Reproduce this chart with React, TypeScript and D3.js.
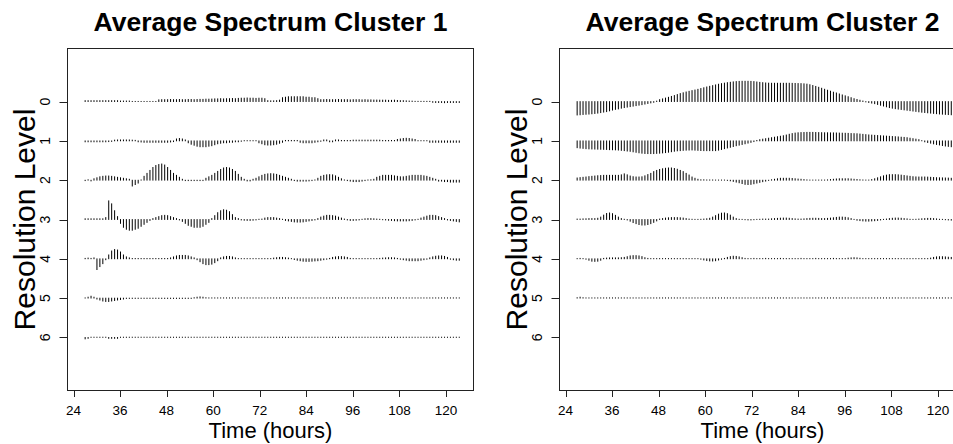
import React from "react";
import * as d3 from "d3";

const WIDTH = 953;
const HEIGHT = 444;

// Sampling of the averaged spectra: 128 points, one every ~45.5 minutes
const TIME_START = 27.0;
const TIME_STEP = 0.7593;
const N_POINTS = 128;

const LEVELS = [0, 1, 2, 3, 4, 5, 6];
const X_TICKS = [24, 36, 48, 60, 72, 84, 96, 108, 120];
const TITLES = ["Average Spectrum Cluster 1", "Average Spectrum Cluster 2"];

// Cluster 1 spectrum, one array per resolution level (positive = upward bar)
const C1_L0 = [
  1, 1, 1, 1, 1, 1, 1, 1, 1, 1, 1, 1,
  0.6, 0.6, 0.6, 0.6,
  0.2, 0.2, 0.2, 0.2, 0.2, 0.2, 0.2, 0.2, 0.2,
  1.8, 2, 2, 2, 2.2, 2, 2, 2.2, 2, 2, 2.2, 2.2, 2, 2.2, 2.3, 2.3,
  2.5, 2.5, 2.6, 2.8, 2.8, 3, 2.8, 3, 3, 3.2, 3, 3.3,
  3.5, 3.5, 3.7, 3.5, 3.5, 3.3, 3.5, 3.5, 3,
  1, 0.8, 0.8, 1, 1.5,
  4, 4.5, 5, 5, 5, 5, 5, 5, 4.5, 4.5, 4, 4, 3,
  2, 2, 2.2, 2, 2, 2, 2.2, 2, 2, 2, 1.8, 2, 2, 2, 1.8, 2, 1.8, 1.8, 1.6, 1.6, 1.5,
  1.5, 1.5, 1.3, 1.3, 1.5, 1.2, 1, 1, 0.8, 0.6, 0.5,
  0.3, 0.3, 0.3, 0.3, 0.3, 0.3,
  -0.8, -1, -1, -1, -1.2, -1, -1, -1, -1, -1,
];
const C1_L1 = [
  -1, -1, -1, -1, -1, -1, -1, -1, -0.8, -0.6,
  0.8, 1, 1, 1, 1, 1, 0.8, 0.6,
  -1, -1.2, -1.5, -1.5, -1.5, -1.5, -1.5, -1.5, -1.5, -1.5, -1.5, -1.2, -0.8,
  2, 2.5, 2, 1,
  -2, -3.5, -4.5, -5.5, -6, -6, -6, -5.5, -5, -4, -3,
  -2.5, -2, -2, -1.5, -1.5, -1, -1, -0.5, 0.3, 0.3,
  0.3, 0.3, 0.3,
  -2, -3, -4, -4.3, -4.3, -4, -3.5, -2.5, -1.5,
  0.5, 0.5, 0.5, 0.5, 0.5,
  -1.5, -2, -2, -2, -2, -1.5, -1, -0.5,
  1, 1, -1, -1, 1, 1, 0.5, 0.5, 0.5, 0.5,
  0.8, 0.8, 0.8, 0.8, 0.8, 0.8, 0.8, 0.8, 0.8, 0.8,
  0.5, 0.5, 0.5, 0.5, 0.5,
  1.5, 2, 2.5, 2.7, 2.5, 2, 1.5,
  0.3, 0.3, 0.3, 0.3,
  -1.5, -1.5, -1.5, -1.5, -1.5, -1.5, -1.5, -1.5, -1.5, -1.5, -1.5,
];
const C1_L2 = [
  -0.5, 0.5, -0.8,
  1.5,
  2.5, 3.5, 4, 4.3, 4.3,
  4, 3.5, 3, 2.5, 2, 1.5, 1,
  -6, -4.5, -3,
  0.3,
  4, 7, 10, 13, 15, 16, 16.5, 15.5, 13, 10, 7, 5, 3, 1,
  -0.5, -0.5, -0.5, -0.5, -0.5, -0.5, -0.5,
  2, 3.5, 5, 7, 9, 11, 12.5, 13, 12.5, 11, 9, 6, 3, 1,
  -0.8, -0.8,
  1, 2, 3.5, 5, 6, 6.5, 6.7, 6.5, 6, 5, 4, 3, 2, 1,
  -0.5, -1, -1, -1, -1, -0.8, -0.5, 0.3,
  2, 4, 5, 5.5, 5.7, 5.5, 4.5, 3, 1.5,
  0.3, -0.5, -1, -1.5, -1.5, -1.5, -1, -0.5, 0.3, 0.5,
  1, 3, 4, 5, 5, 5, 5, 4.5, 4, 3.5, 3.5, 4, 4.5, 5, 5, 5, 5, 4.5, 4, 3, 2, 1,
  -1, -1, -1.5, -1.5, -2, -2, -2, -2,
];
const C1_L3 = [
  0.8, 0.8, 0.8, 0.8, 0.8, 0.8, 0.8,
  2,
  19, 16, 9, 3,
  -4, -8, -10, -11, -11, -10, -9, -7, -5, -3,
  -1,
  1, 2, 3, 4, 4.3, 4, 3, 2, 1,
  -0.5,
  -2, -4, -6, -7, -8, -8, -8, -7, -5, -3,
  1, 4, 7, 9, 10, 9.5, 8, 5, 2, 1,
  -0.5, -0.8, -1, -1, -0.8, -0.5, 0.3, 0.5,
  1.5, 2, 2, 2, 1.5, 1, 0.3,
  -1, -1.5, -2, -2.5, -2.7, -2.7, -2.5, -2, -1.5, -1, -0.5,
  1, 2.5, 3.5, 4.3, 4.3, 4, 3.5, 2.5, 1.5, 0.5,
  -0.5, -1, -1, -0.8, -0.5, 0.3, 0.8, 1, 1, 0.8, 0.5, 0.3, -0.3, -0.5, -0.8,
  -1, -1.3, -1.5, -1.5, -1.5, -1.5, -1.3, -1, -0.5, 0.3,
  1.5, 2.5, 3.5, 4.3, 4.3, 4, 3, 2, 1,
  -0.5, -1, -1.5, -2, -2.5,
];
const C1_L4 = [
  0.5, 0.8, 0.5, 1,
  -11, -8, -5, -1,
  4, 8, 9.5, 9, 7, 4, 2, 1,
  0.4, 0.4, 0.4, 0.4, 0.4, 0.4, 0.4, 0.4, 0.4, 0.4, 0.4, 0.4, 0.4,
  1, 2, 3, 3.5, 3.5, 3.5, 3, 2, 1,
  -1, -3, -5, -6, -6, -5.5, -4, -2,
  1, 2, 2.5, 2.5, 2, 1,
  0.3, 0.3, 0.3, 0.3, 0.3, 0.3, 0.3, 0.3, 0.3, 0.3, 0.3, 0.3,
  0.8, 1.2, 1.5, 1.5, 1.2, 0.8, 0.3,
  -0.8, -1.5, -2, -2.5, -2.7, -2.7, -2.5, -2.2, -2, -1.5, -1, -0.5,
  0.5, 1.5, 2, 2.3, 2.3, 2, 1.5, 0.5,
  0.3, 0.3, 0.3, 0.3, 0.3, 0.3, 0.3, 0.3, 0.3,
  0.5, 0.8, 1, 1.2, 1.2, 1, 0.5,
  -0.5, -1, -1.5, -2, -2, -2, -2, -1.5, -1, -0.5,
  1, 2, 2.7, 3, 3, 2.5, 1.5,
  -0.5, -1, -1.5, -1.5,
];
const C1_L5 = [
  0.3, 1, 2, 1,
  -1, -2, -3, -3.5, -3.5, -3, -2.5, -2, -1.5, -1,
  -0.4, -0.4, -0.4, -0.4, -0.4, -0.4, -0.4, -0.4, -0.4, -0.4, -0.4, -0.4,
  -0.4, -0.4, -0.4, -0.4, -0.4, -0.4, -0.4, -0.4, -0.4, -0.4, -0.4,
  0.5, 1, 1.3, 1, 0.5,
  0.3, 0.3, 0.3, 0.3, 0.3, 0.3, 0.3, 0.3, 0.3, 0.3, 0.3, 0.3, 0.3, 0.3, 0.3, 0.3,
  0.3, 0.3, 0.3, 0.3, 0.3, 0.3, 0.3, 0.3, 0.3, 0.3, 0.3, 0.3, 0.3, 0.3, 0.3, 0.3,
  0.3, 0.3, 0.3, 0.3, 0.3, 0.3, 0.3, 0.3, 0.3, 0.3, 0.3, 0.3, 0.3, 0.3, 0.3, 0.3,
  0.3, 0.3, 0.3, 0.3, 0.3, 0.3, 0.3, 0.3, 0.3, 0.3, 0.3, 0.3, 0.3, 0.3, 0.3, 0.3,
  0.3, 0.3, 0.3, 0.3, 0.3, 0.3, 0.3, 0.3, 0.3, 0.3, 0.3, 0.3, 0.3, 0.3, 0.3, 0.3,
  0.3, 0.3, 0.3, 0.3, 0.3, 0.3,
];
const C1_L6 = [
  -1.5, -1,
  0.3, 0.3, 0.3, 0.3, 0.3, 0.3,
  -1, -1, -1, -1,
  0.3, 0.3, 0.3, 0.3, 0.3, 0.3, 0.3, 0.3, 0.3, 0.3, 0.3, 0.3, 0.3, 0.3, 0.3, 0.3,
  0.3, 0.3, 0.3, 0.3, 0.3, 0.3, 0.3, 0.3, 0.3, 0.3, 0.3, 0.3, 0.3, 0.3, 0.3, 0.3,
  0.3, 0.3, 0.3, 0.3, 0.3, 0.3, 0.3, 0.3, 0.3, 0.3, 0.3, 0.3, 0.3, 0.3, 0.3, 0.3,
  0.3, 0.3, 0.3, 0.3, 0.3, 0.3, 0.3, 0.3, 0.3, 0.3, 0.3, 0.3, 0.3, 0.3, 0.3, 0.3,
  0.3, 0.3, 0.3, 0.3, 0.3, 0.3, 0.3, 0.3, 0.3, 0.3, 0.3, 0.3, 0.3, 0.3, 0.3, 0.3,
  0.3, 0.3, 0.3, 0.3, 0.3, 0.3, 0.3, 0.3, 0.3, 0.3, 0.3, 0.3, 0.3, 0.3, 0.3, 0.3,
  0.3, 0.3, 0.3, 0.3, 0.3, 0.3, 0.3, 0.3, 0.3, 0.3, 0.3, 0.3, 0.3, 0.3, 0.3, 0.3,
  0.3, 0.3, 0.3, 0.3,
];

// Cluster 2 spectrum
const C2_L0 = [
  -13.7, -13.5, -13.2, -13, -12.8, -12.5, -12.2, -11.8, -11.3, -10.8,
  -10.3, -9.5, -8.7, -8, -7.5, -6.8, -6.2, -5.7, -5.2, -4.7,
  -4.2, -3.7, -3.2, -2.6, -2, -1.4, -0.8, 0.5, 2, 2.8,
  3.6, 4.4, 5.3, 6.2, 7.2, 8.2, 9, 9.8, 10.5, 11.2,
  11.8, 12.5, 13.3, 14.1, 14.9, 15.6, 16.3, 17, 17.7, 18.3,
  18.8, 19.3, 19.7, 20.1, 20.4, 20.6, 20.7, 20.7, 20.7, 20.6,
  20.4, 20, 19.6, 19.3, 19, 18.8, 18.7, 18.7, 18.7, 18.7,
  18.7, 18.7, 18.7, 18.6, 18.5, 18.4, 18.3, 18.1, 17.8, 17.2,
  16.4, 15.5, 14.6, 13.6, 12.6, 11.6, 10.6, 9.6, 8.8, 7.8,
  6.8, 5.9, 5, 4, 3, 2.2, 1.4, 0.6, -0.4, -1,
  -1.6, -2.2, -3, -3.8, -4.6, -5.4, -6.2, -6.8, -7.3, -7.7,
  -8.1, -8.5, -8.9, -9.3, -9.7, -10.1, -10.5, -10.9, -11.2, -11.5,
  -11.8, -12.1, -12.4, -12.7, -12.9, -13.1, -13.3, -13.5,
];
const C2_L1 = [
  -7, -7.4, -7.7, -8, -8.2, -8.3, -8.4, -8.5, -8.6, -8.7,
  -8.8, -9, -9.1, -9.2, -9.4, -9.7, -10, -10.4, -10.7, -11.2,
  -11.7, -12.2, -12.6, -12.9, -13, -13, -13, -12.8, -12.6, -12.3,
  -12, -11.6, -11.1, -10.6, -10.2, -10, -9.7, -9.5, -9.4, -9.3,
  -9.5, -9.7, -9.9, -10, -10, -10, -10, -10, -9.5, -8.8,
  -8, -7.3, -6.6, -5.8, -5, -4.4, -3.7, -3, -2.3, -1.6,
  -0.8, 0.5, 1.3, 1.8, 2.3, 2.8, 3.3, 3.8, 4.3, 4.8,
  5.3, 6, 6.8, 7.5, 8, 8.3, 8.5, 8.6, 8.7, 8.7,
  8.7, 8.6, 8.5, 8.4, 8.3, 8.3, 8.2, 8.2, 8.1, 8,
  7.9, 7.8, 7.7, 7.5, 7.4, 7.3, 7, 6.7, 6.4, 6.1,
  5.9, 5.7, 5.5, 5.3, 5.1, 4.9, 4.7, 4.5, 4.3, 4.1,
  3.8, 3.6, 3.3, 2.8, 2.3, 1.8, 1.3, 0.3, -1, -1.7,
  -2.4, -3.1, -3.7, -4.2, -4.8, -5.3, -5.7, -6,
];
const C2_L2 = [
  2.3, 2.7, 3, 3.3, 3.7, 4, 4.3, 4.6, 4.8, 5,
  5, 5, 5, 5, 5, 5.5, 6.5, 5.5, 4.3, 3.6,
  3.3, 3.3, 3.5, 4.5, 5.8, 7, 8.8, 10, 11, 11.7,
  12.2, 12.5, 12.5, 12, 11.2, 10, 8.8, 7, 5.3, 3.3,
  2, 1, 0.5, 0.5, 0.3, 0.3, 0.3, 0.2, 0.2, 0.2,
  0.2, -0.3, -0.7, -1.3, -2, -2.7, -3.5, -4.3, -4.5, -4.3,
  -3.7, -3, -2.3, -1.6, -1, -0.3, 0.5, 1, 1.5, 2,
  2, 2, 2, 1.8, 1.5, 1.2, 1, 0.7, 0.4, 0.2,
  0.2, 0.2, 0.2, 0.2, 0.2, 0.4, 0.7, 1, 1.3, 1.5,
  1.5, 1.5, 1.5, 1.3, 1, 0.8, 0.5, 0.3, 0.2, 0.2,
  0.7, 1.5, 2.5, 3.5, 4.5, 5.2, 5.7, 5.7, 5.7, 5.5,
  5.2, 4.8, 4.4, 4, 3.6, 3.4, 3.3, 3.3, 3.3, 3.2,
  3, 2.8, 2.6, 2.5, 2.4, 2.3, 2.2, 2,
];
const C2_L3 = [
  0.5, 0.5, 0.7, 0.8, 1, 1, 1, 1.3, 2.5, 4.5,
  6.2, 6.7, 6, 4.3, 2.5, 1, 0.3, -0.5, -1.8, -3.2,
  -4.3, -5.2, -5.7, -5.7, -5.2, -4.3, -3, -1.5, 0.5, 1,
  1.5, 1.8, 2, 2, 2, 1.8, 1.5, 1, 0.5, 0.3,
  0.2, 0.2, 0.3, 0.5, 0.8, 1.3, 2.5, 4, 5.5, 6.5,
  6.7, 6, 4.5, 2.5, 1, 0.3, 0.2, -0.3, -0.5, -0.5,
  -0.3, 0.2, 0.3, 0.5, 0.5, 0.5, 0.8, 1, 1.2, 1.4,
  1.5, 1.5, 1.3, 1, 0.7, 0.5, 0.5, 0.7, 1, 1.2,
  1.3, 1.3, 1.2, 1, 1, 1.2, 1.5, 1.8, 2.2, 2.5,
  2.5, 2.3, 1.8, 1, 0.2, -0.8, -1.2, -1.5, -1.7, -1.7,
  -1.5, -1.3, -1, -0.5, 0.2, 0.5, 1, 1.3, 1.5, 1.5,
  1.3, 1, 0.7, 0.3, 0.2, 0.3, 0.5, 0.8, 1, 1.2,
  1.2, 1, 0.7, 0.3, 0.2, -0.3, -0.5, -0.7,
];
const C2_L4 = [
  0.3, 0.5, 0.3, -0.5,
  -1.5, -2.5, -2.7, -2.5, -1.5,
  0.5, 0.8, 1, 1, 1, 1, 1.2, 1.5,
  2.2, 3, 3.3, 3.3, 3, 2.3, 1.2, 0.5, 0.3, 0.3,
  0.3, 0.3, 0.3, 0.3, 0.3, 0.3, 0.3, 0.3, 0.3, 0.3, 0.3, 0.3, 0.3, 0.3, 0.3,
  -0.5, -1.2, -1.8, -2.2, -2.3, -2, -1.3, -0.5,
  0.5, 1.5, 2.3, 2.7, 2.5, 2, 1.2, 0.5,
  0.3, 0.3, 0.5, 0.3, 0.3, 0.3, 0.5, 0.3, 0.3, 0.3, 0.3, 0.5, 0.3, 0.3, 0.3, 0.3, 0.3,
  0.3, 0.5, 0.3, 0.3, 0.3, 0.3, 0.5, 0.3, 0.3, 0.3, 0.3, 0.3, 0.5, 0.3, 0.3, 0.3, 0.3,
  0.7, 1, 1.2, 1, 0.6,
  0.3, 0.3, 0.3, 0.3, 0.3, 0.3, 0.3, 0.3, 0.3, 0.3, 0.3, 0.3,
  0.3, 0.3, 0.3, 0.3, 0.3, 0.3, 0.3, 0.3, 0.3, 0.3, 0.3,
  0.8, 1.5, 2, 2.2, 2.2, 2, 1.7, 1.5,
];
const C2_L5 = [
  0.5, 1, 0.5,
  0.3, 0.3, 0.3, 0.3, 0.3, 0.3, 0.3, 0.3, 0.3, 0.3, 0.3, 0.3, 0.3, 0.3, 0.3, 0.3,
  0.3, 0.3, 0.3, 0.3, 0.3, 0.3, 0.3, 0.3, 0.3, 0.3, 0.3, 0.3, 0.3, 0.3, 0.3, 0.3,
  0.3, 0.3, 0.3, 0.3, 0.3, 0.3, 0.3, 0.3, 0.3, 0.3, 0.3, 0.3, 0.3, 0.3, 0.3, 0.3,
  0.3, 0.3, 0.3, 0.3, 0.3, 0.3, 0.3, 0.3, 0.3, 0.3, 0.3, 0.3, 0.3, 0.3, 0.3, 0.3,
  0.3, 0.3, 0.3, 0.3, 0.3, 0.3, 0.3, 0.3, 0.3, 0.3, 0.3, 0.3, 0.3, 0.3, 0.3, 0.3,
  0.3, 0.3, 0.3, 0.3, 0.3, 0.3, 0.3, 0.3, 0.3, 0.3, 0.3, 0.3, 0.3, 0.3, 0.3, 0.3,
  0.3, 0.3, 0.3, 0.3, 0.3, 0.3, 0.3, 0.3, 0.3, 0.3, 0.3, 0.3, 0.3, 0.3, 0.3, 0.3,
  0.3, 0.3, 0.3, 0.3, 0.3, 0.3, 0.3, 0.3, 0.3, 0.3, 0.3, 0.3, 0.3,
];
// The finest level of cluster 2 carries no energy
const C2_L6 = [
  0, 0, 0, 0, 0, 0, 0, 0, 0, 0, 0, 0, 0, 0, 0, 0, 0, 0, 0, 0, 0, 0, 0, 0, 0, 0, 0, 0, 0, 0, 0, 0,
  0, 0, 0, 0, 0, 0, 0, 0, 0, 0, 0, 0, 0, 0, 0, 0, 0, 0, 0, 0, 0, 0, 0, 0, 0, 0, 0, 0, 0, 0, 0, 0,
  0, 0, 0, 0, 0, 0, 0, 0, 0, 0, 0, 0, 0, 0, 0, 0, 0, 0, 0, 0, 0, 0, 0, 0, 0, 0, 0, 0, 0, 0, 0, 0,
  0, 0, 0, 0, 0, 0, 0, 0, 0, 0, 0, 0, 0, 0, 0, 0, 0, 0, 0, 0, 0, 0, 0, 0, 0, 0, 0, 0, 0, 0, 0, 0,
];

const CLUSTER1 = [C1_L0, C1_L1, C1_L2, C1_L3, C1_L4, C1_L5, C1_L6];
const CLUSTER2 = [C2_L0, C2_L1, C2_L2, C2_L3, C2_L4, C2_L5, C2_L6];

const TIMES = d3.range(N_POINTS).map((i) => TIME_START + i * TIME_STEP);

const FONT = "'Liberation Sans', Arial, Helvetica, sans-serif";
const INK = "#222";

type PanelProps = { dx: number; title: string; series: number[][] };

function Panel({ dx, title, series }: PanelProps) {
  const left = 67.5 + dx;
  const right = 473.5 + dx;
  const top = 48.5;
  const bottom = 390.5;

  const x = d3.scaleLinear().domain([22.45, 127.1]).range([left, right]);
  const y = d3.scaleLinear().domain([-1.35, 7.35]).range([top, bottom]);
  // 40 spectrum units span one level spacing
  const amp = d3.scaleLinear().domain([0, 40]).range([0, y(1) - y(0)]);

  const cx = (left + right) / 2;
  const cy = (top + bottom) / 2;

  return (
    <g>
      <text x={cx} y={31} textAnchor="middle" fontFamily={FONT} fontWeight="bold" fontSize={26.5} fill="#000">
        {title}
      </text>

      {series.map((vals, lev) => {
        const base = y(lev);
        const d = vals
          .map((v, i) => (v === 0 ? "" : `M${x(TIMES[i]).toFixed(2)},${base.toFixed(2)}V${(base - amp(v)).toFixed(2)}`))
          .join("");
        return <path key={lev} d={d} stroke="#000" strokeWidth={1} strokeLinecap="round" fill="none" />;
      })}

      <rect x={left} y={top} width={right - left} height={bottom - top} fill="none" stroke={INK} strokeWidth={1} />

      {/* time axis */}
      <line x1={x(X_TICKS[0])} x2={x(X_TICKS[X_TICKS.length - 1])} y1={bottom} y2={bottom} stroke={INK} />
      {X_TICKS.map((t) => (
        <g key={t}>
          <line x1={Math.round(x(t)) + 0.5} x2={Math.round(x(t)) + 0.5} y1={bottom} y2={bottom + 6.5} stroke={INK} />
          <text x={x(t)} y={415} textAnchor="middle" fontFamily={FONT} fontSize={13.5} fill="#000">
            {t}
          </text>
        </g>
      ))}
      <text x={cx} y={438} textAnchor="middle" fontFamily={FONT} fontSize={22} fill="#000">
        Time (hours)
      </text>

      {/* level axis */}
      {LEVELS.map((lev) => (
        <g key={lev}>
          <line x1={left - 8} x2={left} y1={Math.round(y(lev)) + 0.5} y2={Math.round(y(lev)) + 0.5} stroke={INK} />
          <text
            transform={`translate(${50 + dx},${y(lev)}) rotate(-90)`}
            textAnchor="middle"
            fontFamily={FONT}
            fontSize={14}
            fill="#000"
          >
            {lev}
          </text>
        </g>
      ))}
      <text
        transform={`translate(${35 + dx},${cy}) rotate(-90)`}
        textAnchor="middle"
        fontFamily={FONT}
        fontSize={30}
        fill="#000"
      >
        Resolution Level
      </text>
    </g>
  );
}

export default function App() {
  return (
    <svg
      width={WIDTH}
      height={HEIGHT}
      viewBox={`0 0 ${WIDTH} ${HEIGHT}`}
      style={{ position: "absolute", left: 0, top: 0, background: "#fff" }}
    >
      <rect width={WIDTH} height={HEIGHT} fill="#fff" />
      <Panel dx={0} title={TITLES[0]} series={CLUSTER1} />
      <Panel dx={492} title={TITLES[1]} series={CLUSTER2} />
    </svg>
  );
}
